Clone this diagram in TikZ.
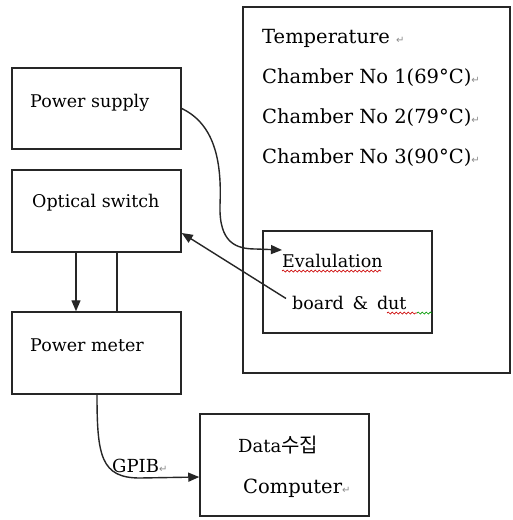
\documentclass[tikz,border=0pt]{standalone}
\usepackage{fontspec}
\setmainfont{DejaVu Serif}
\newfontfamily\krfont{Noto Sans CJK KR}
\newfontfamily\symfont{DejaVu Sans}
\usetikzlibrary{arrows.meta,decorations.pathmorphing}
\newcommand\retmark{{\symfont\color{black!45}\fontsize{10}{10}\selectfont ↵}}
\begin{document}
\begin{tikzpicture}[x=1pt,y=-1pt,
  box/.style={draw=black!85,line width=1.5pt,inner sep=0pt},
  lt/.style={anchor=base west,inner sep=0pt,text=black,font=\fontsize{17.5}{20}\selectfont},
  rt/.style={anchor=base west,inner sep=0pt,text=black,font=\fontsize{19.5}{22}\selectfont},
  conn/.style={draw=black!85,line width=1.4pt},
  arr/.style={conn,-{Triangle[length=11pt,width=9pt]}},
  wavy/.style={line width=0.7pt,decorate,decoration={snake,segment length=4pt,amplitude=1pt}}]
\fill[white] (0,0) rectangle (513,520);
\useasboundingbox (0,0) rectangle (513,520);
% boxes
\node[box,minimum width=169pt,minimum height=81pt] (ps) at (96.5,108.5) {};
\node[box,minimum width=169pt,minimum height=82pt] (os) at (96.5,211) {};
\node[box,minimum width=169pt,minimum height=82pt] (pm) at (96.5,353) {};
\node[box,minimum width=169pt,minimum height=102pt] (dc) at (284.5,465) {};
\node[box,minimum width=267pt,minimum height=366pt] (tc) at (376.5,190) {};
\node[box,minimum width=169pt,minimum height=102pt] (ev) at (347.5,282) {};
% texts
\node[rt] (t0) at (262,43) {Temperature \retmark};
\node[rt] (t1) at (262,83) {Chamber No 1(69°C)\retmark};
\node[rt] (t2) at (262,123) {Chamber No 2(79°C)\retmark};
\node[rt] (t3) at (262,163) {Chamber No 3(90°C)\retmark};
\node[lt] (pst) at (30,107) {Power supply};
\node[lt] (ost) at (32,207) {Optical switch};
\node[lt] (pmt) at (30,351) {Power meter};
\node[lt,font=\fontsize{18}{20}\selectfont] (gp) at (112,472) {GPIB\retmark};
\node[lt] (evt) at (282,267) {Evalulation};
\node[lt] (bdt) at (292,309) {board\enspace\&\enspace dut};
\node[rt,font=\fontsize{18}{20}\selectfont] (dt) at (238,452) {Data{\krfont\fontsize{20}{22}\selectfont 수집}};
\node[rt] (ct) at (243,493) {Computer\retmark};
% spell-check underlines
\draw[wavy,red!80!black] (282,271) -- (381,271);
\draw[wavy,red!80!black] (387,313) -- (417,313);
\draw[wavy,green!60!black] (417,313) -- (432,313);
% connectors
\coordinate (evin) at (282,250);
\draw[arr] (ps.east) .. controls (214,124) and (222,160) .. (220,205)
  .. controls (219,243) and (236,249) .. (256,249) -- (evin);
\draw[arr] ([shift={(-6pt,4pt)}]bdt.west) -- ([yshift=-22pt]os.east);
\draw[arr] ([xshift=-20.5pt]os.south) -- ([xshift=-20.5pt]pm.north);
\draw[conn] ([xshift=20.5pt]os.south) -- ([xshift=20.5pt]pm.north);
\draw[arr] ([xshift=0.5pt]pm.south) .. controls (97,456) and (101,478) .. (140,478) -- ([yshift=-12pt]dc.west);
\end{tikzpicture}
\end{document}
